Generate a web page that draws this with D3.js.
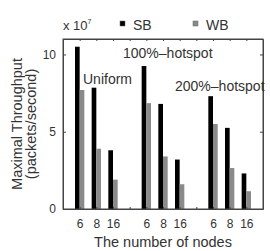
<!DOCTYPE html>
<html>
<head>
<meta charset="utf-8">
<script src="https://cdn.jsdelivr.net/npm/d3@7"></script>
<style>
  body { margin: 0; background: #fff; }
  text { font-family: "Liberation Sans", Arial, sans-serif; fill: #333; }
</style>
</head>
<body>
<svg id="chart"></svg>
<script>
// x positions of the bar groups (gaps at 4 and 8 split the three traffic patterns)
const positions = [1, 2, 3, 5, 6, 7, 9, 10, 11];
const nodeLabels = ['6', '8', '16', '6', '8', '16', '6', '8', '16'];
// throughput, in units of 1e7 packets/second
const sbValues = [10.5, 7.85, 3.8, 9.25, 6.8, 3.2, 7.3, 5.25, 2.3];
const wbValues = [7.7, 3.9, 1.9, 6.85, 3.4, 1.6, 5.5, 2.65, 1.15];
const yTicks = [0, 5, 10];
const seriesNames = ['SB', 'WB'];
const seriesColors = ['#000000', '#8a8a8a'];
const groupNames = ['Uniform', '100%\u2013hotspot', '200%\u2013hotspot'];

const svgWidth = 270;
const svgHeight = 251;
const margin = { top: 39, right: 7, bottom: 42, left: 63 };
const chartWidth = svgWidth - margin.left - margin.right;
const chartHeight = svgHeight - margin.top - margin.bottom;

const svg = d3.select('#chart')
  .attr('width', svgWidth)
  .attr('height', svgHeight);

const g = svg.append('g')
  .attr('transform', `translate(${margin.left},${margin.top})`);

const xScale = d3.scaleLinear().domain([0, 12]).range([0, chartWidth]);
const yScale = d3.scaleLinear().domain([0, 11]).range([chartHeight, 0]);
const barW = xScale(0.28) - xScale(0);

// bars
const rows = positions.map((p, i) => ({ p, sb: sbValues[i], wb: wbValues[i] }));

g.selectAll('.sb')
  .data(rows)
  .enter().append('rect')
  .attr('class', 'sb')
  .attr('x', d => xScale(d.p) - barW)
  .attr('y', d => yScale(d.sb))
  .attr('width', barW)
  .attr('height', d => chartHeight - yScale(d.sb))
  .attr('fill', seriesColors[0]);

g.selectAll('.wb')
  .data(rows)
  .enter().append('rect')
  .attr('class', 'wb')
  .attr('x', d => xScale(d.p))
  .attr('y', d => yScale(d.wb))
  .attr('width', barW)
  .attr('height', d => chartHeight - yScale(d.wb))
  .attr('fill', seriesColors[1]);

// axes (ticks pointing inward, mirrored on top and right)
const xTickVals = d3.range(1, 12);
const xLabelOf = v => {
  const i = positions.indexOf(v);
  return i < 0 ? '' : nodeLabels[i];
};

g.append('g')
  .attr('transform', `translate(0,${chartHeight})`)
  .call(d3.axisBottom(xScale).tickValues(xTickVals).tickFormat(xLabelOf)
    .tickSizeInner(-2).tickSizeOuter(0).tickPadding(10));

g.append('g')
  .call(d3.axisTop(xScale).tickValues(xTickVals).tickFormat('')
    .tickSizeInner(-2).tickSizeOuter(0));

g.append('g')
  .call(d3.axisLeft(yScale).tickValues(yTicks)
    .tickSizeInner(-3).tickSizeOuter(0).tickPadding(7));

g.append('g')
  .attr('transform', `translate(${chartWidth},0)`)
  .call(d3.axisRight(yScale).tickValues(yTicks).tickFormat('')
    .tickSizeInner(-3).tickSizeOuter(0));

g.selectAll('.domain').attr('stroke', '#444');
g.selectAll('.tick line').attr('stroke', '#444');
g.selectAll('.tick text')
  .style('font-size', '12px')
  .attr('fill', '#444');

g.append('rect')
  .attr('width', chartWidth)
  .attr('height', chartHeight)
  .attr('fill', 'none')
  .attr('stroke', '#444')
  .attr('stroke-width', 1);

// group annotations
const notes = [
  { text: groupNames[0], x: 1.2, y: 8.1 },
  { text: groupNames[1], x: 3.6, y: 9.75 },
  { text: groupNames[2], x: 6.72, y: 7.64 }
];
g.selectAll('.note')
  .data(notes)
  .enter().append('text')
  .attr('class', 'note')
  .attr('x', d => xScale(d.x))
  .attr('y', d => yScale(d.y))
  .style('font-size', '14px')
  .text(d => d.text);

// exponent and legend above the plot
const header = svg.append('g');
const expText = header.append('text')
  .attr('x', 63)
  .attr('y', 30)
  .style('font-size', '13px');
expText.append('tspan').text('x 10');
expText.append('tspan')
  .attr('dy', -6)
  .style('font-size', '7px')
  .text('7');

const legendX = [120, 193];
seriesNames.forEach((name, i) => {
  header.append('rect')
    .attr('x', legendX[i])
    .attr('y', 21)
    .attr('width', 5)
    .attr('height', 5)
    .attr('fill', seriesColors[i])
    .attr('stroke', '#666')
    .attr('stroke-width', 0.5);
  header.append('text')
    .attr('x', legendX[i] + 13)
    .attr('y', 30)
    .style('font-size', '14px')
    .text(name);
});

// axis titles
svg.append('text')
  .attr('x', 163)
  .attr('y', 247)
  .attr('text-anchor', 'middle')
  .style('font-size', '14.5px')
  .text('The number of nodes');

const yTitle = svg.append('text')
  .attr('transform', 'translate(22,124) rotate(-90)')
  .attr('text-anchor', 'middle')
  .style('font-size', '14.5px');
yTitle.append('tspan').attr('x', 0).attr('dy', 0).text('Maximal Throughput');
yTitle.append('tspan').attr('x', 0).attr('dy', 14).text('(packets/second)');
</script>
</body>
</html>
